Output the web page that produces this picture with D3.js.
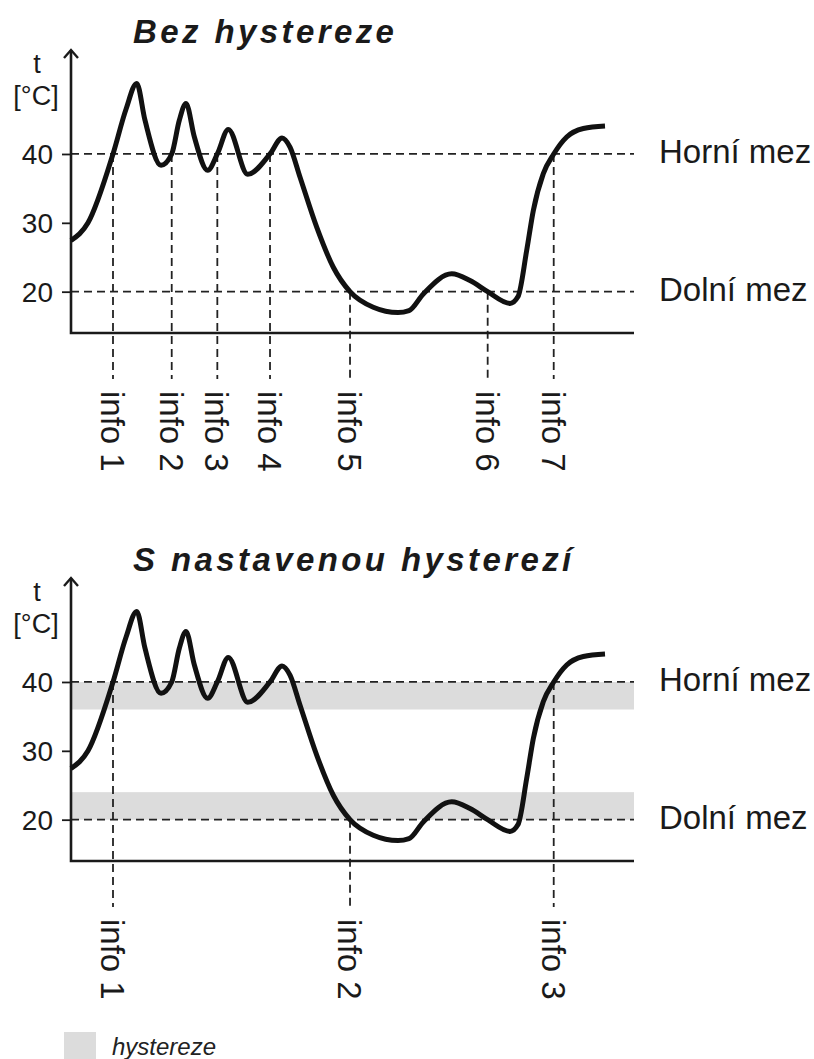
<!DOCTYPE html>
<html><head><meta charset="utf-8">
<script src="https://cdn.jsdelivr.net/npm/d3@7"></script>
<style>body{margin:0;background:#fff}svg{display:block}</style>
</head><body>
<svg id="chart" width="814" height="1059"></svg>
<script>
// ---- data ----
const time = [0, 3.02, 7.46, 9.77, 11.67, 13.14, 15.99, 17.89, 19.24, 20.43, 21.9, 24.28, 25.99, 27.94, 31.39, 35.35, 37.48, 38.9, 40.67, 43.64, 46.59, 49.56, 53.69, 58.08, 60.04, 62.58, 67.62, 70.87, 74.01, 77.98, 79.4, 80.94, 82.12, 83.89, 85.74, 88.05, 91.0, 94.85];
const temp = [27.44, 30.01, 40.0, 46.5, 50.25, 44.9, 38.36, 40.0, 44.9, 47.34, 42.5, 37.63, 40.0, 43.55, 37.05, 40.0, 42.33, 41.0, 36.65, 29.37, 23.55, 20.0, 17.73, 16.96, 17.25, 19.68, 22.59, 21.62, 20.0, 18.3, 19.3, 26.0, 31.8, 37.15, 40.0, 42.47, 43.7, 44.08];
const yTicks = [20, 30, 40];
const limitValues = [40, 20];
const limitLabels = ["Horní mez", "Dolní mez"];
const bandLow = [36, 20];
const bandHigh = [40, 24];
const titles = ["Bez hystereze", "S nastavenou hysterezí"];
const eventTimesA = [7.46, 17.89, 25.99, 35.35, 49.56, 74.01, 85.74];
const eventLevelsA = [40, 40, 40, 40, 20, 20, 40];
const eventLabelsA = ["info 1", "info 2", "info 3", "info 4", "info 5", "info 6", "info 7"];
const eventTimesB = [7.46, 49.56, 85.74];
const eventLevelsB = [40, 20, 40];
const eventLabelsB = ["info 1", "info 2", "info 3"];
const legendLabel = "hystereze";

// ---- layout ----
const svg = d3.select("#chart");
const font = "'Liberation Sans', Arial, Helvetica, sans-serif";
const ink = "#1a1a1a";
const x = d3.scaleLinear().domain([0, 100]).range([71, 634]);

function panel(offY, title, evT, evL, evLab, showBands) {
  const g = svg.append("g").attr("transform", `translate(0,${offY})`);
  const y = d3.scaleLinear().domain([14, 55.1]).range([333, 50]);
  const axisY = y(14);

  g.append("text").attr("x", 133).attr("y", 43)
    .attr("font-family", font).attr("font-size", 33).attr("font-weight", "bold")
    .attr("font-style", "italic").attr("letter-spacing", 3.4).attr("fill", ink).text(title);

  if (showBands) {
    g.selectAll("rect.band").data(d3.range(bandLow.length)).join("rect")
      .attr("x", x(0)).attr("width", x(100) - x(0))
      .attr("y", i => y(bandHigh[i])).attr("height", i => y(bandLow[i]) - y(bandHigh[i]))
      .attr("fill", "#dcdcdc");
  }

  // limit lines
  g.selectAll("line.lim").data(limitValues).join("line")
    .attr("x1", x(0)).attr("x2", x(100)).attr("y1", d => y(d)).attr("y2", d => y(d))
    .attr("stroke", "#222").attr("stroke-width", 1.8).attr("stroke-dasharray", "8,5");
  g.selectAll("text.lim").data(limitValues).join("text")
    .attr("x", 659).attr("y", d => y(d) + 9)
    .attr("font-family", font).attr("font-size", 33).attr("fill", ink)
    .text((d, i) => limitLabels[i]);

  // event lines
  const ev = d3.range(evT.length);
  g.selectAll("line.ev").data(ev).join("line")
    .attr("x1", i => x(evT[i])).attr("x2", i => x(evT[i]))
    .attr("y1", i => y(evL[i])).attr("y2", axisY + 46)
    .attr("stroke", "#222").attr("stroke-width", 1.8).attr("stroke-dasharray", "8,5");
  g.selectAll("text.ev").data(ev).join("text")
    .attr("transform", i => `translate(${x(evT[i])},${axisY + 58}) rotate(90)`)
    .attr("dy", "0.36em")
    .attr("font-family", font).attr("font-size", 33).attr("fill", ink)
    .text(i => evLab[i]);

  // axes
  g.append("path").attr("d", `M${x(0)},${y(55.1)}L${x(0)},${axisY}L${x(100)},${axisY}`)
    .attr("fill", "none").attr("stroke", ink).attr("stroke-width", 2.6);
  g.append("path").attr("d", `M${x(0) - 7},${y(55.1) + 8}L${x(0)},${y(55.1)}L${x(0) + 7},${y(55.1) + 8}`)
    .attr("fill", "none").attr("stroke", ink).attr("stroke-width", 2.4);

  const ax = g.append("g").attr("transform", `translate(${x(0)},0)`)
    .call(d3.axisLeft(y).tickValues(yTicks).tickSize(9).tickPadding(9).tickFormat(d3.format("d")));
  ax.select(".domain").remove();
  ax.selectAll(".tick line").attr("stroke", ink).attr("stroke-width", 1.8);
  ax.selectAll(".tick text").attr("font-family", font).attr("font-size", 28).attr("fill", ink).attr("dy", "0.34em");

  g.append("text").attr("x", 37).attr("y", 73).attr("text-anchor", "middle")
    .attr("font-family", font).attr("font-size", 27).attr("fill", ink).text("t");
  g.append("text").attr("x", 36).attr("y", 105).attr("text-anchor", "middle")
    .attr("font-family", font).attr("font-size", 27).attr("fill", ink).text("[°C]");

  // curve
  const line = d3.line().x((d, i) => x(time[i])).y((d, i) => y(temp[i])).curve(d3.curveMonotoneX);
  g.append("path").datum(temp).attr("d", line)
    .attr("fill", "none").attr("stroke", "#111").attr("stroke-width", 5)
    .attr("stroke-linejoin", "round").attr("stroke-linecap", "butt");
}

panel(0, titles[0], eventTimesA, eventLevelsA, eventLabelsA, false);
panel(528, titles[1], eventTimesB, eventLevelsB, eventLabelsB, true);

// legend
svg.append("rect").attr("x", 64).attr("y", 1032).attr("width", 32).attr("height", 32).attr("fill", "#dcdcdc");
svg.append("text").attr("x", 112).attr("y", 1055)
  .attr("font-family", font).attr("font-size", 24).attr("font-style", "italic").attr("fill", "#222")
  .text(legendLabel);
</script>
</body></html>
